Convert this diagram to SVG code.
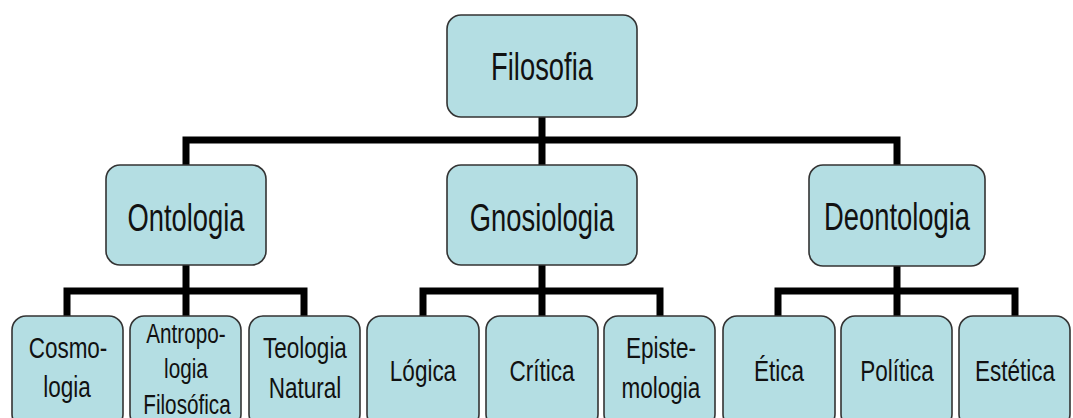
<svg xmlns="http://www.w3.org/2000/svg" width="1073" height="418" viewBox="0 0 1073 418">
<style>
.box{fill:#b4dee3;stroke:#333;stroke-width:1.6}
.t1{font-family:"Liberation Sans",Arial,sans-serif;font-size:38px;fill:#111;text-anchor:middle}
.t2{font-family:"Liberation Sans",Arial,sans-serif;font-size:30px;fill:#111;text-anchor:middle}
.t3{font-family:"Liberation Sans",Arial,sans-serif;font-size:28px;fill:#111;text-anchor:middle}
.c{fill:none;stroke:#000;stroke-width:7;stroke-linejoin:miter;stroke-linecap:butt}
</style>
<rect width="1073" height="418" fill="#fff"/>
<g id="connectors">
<path class="c" d="M542 117 V316"/>
<path class="c" d="M186 165 V140 H897 V165"/>
<path class="c" d="M186 265 V316"/>
<path class="c" d="M67 316 V291 H304 V316"/>
<path class="c" d="M423 316 V291 H660 V316"/>
<path class="c" d="M897 266 V316"/>
<path class="c" d="M778 316 V291 H1015 V316"/>
</g>
<g id="filosofia"><rect class="box" x="447" y="15" width="190" height="102" rx="14"/><text class="t1" transform="translate(542 80) scale(0.72 1)">Filosofia</text></g>
<g id="ontologia"><rect class="box" x="106" y="165" width="160" height="100" rx="14"/><text class="t1" transform="translate(186 231) scale(0.72 1)">Ontologia</text></g>
<g id="gnosiologia"><rect class="box" x="447" y="165" width="190" height="100" rx="14"/><text class="t1" transform="translate(542 231) scale(0.72 1)">Gnosiologia</text></g>
<g id="deontologia"><rect class="box" x="809" y="165" width="176" height="101" rx="14"/><text class="t1" transform="translate(897 230) scale(0.72 1)">Deontologia</text></g>
<g id="cosmologia"><rect class="box" x="12" y="316" width="111" height="112" rx="14"/><text class="t2" transform="translate(68 358) scale(0.75 1)">Cosmo-</text><text class="t2" transform="translate(67 397) scale(0.75 1)">logia</text></g>
<g id="antropologia"><rect class="box" x="130" y="316" width="111" height="112" rx="14"/><text class="t3" transform="translate(186 343) scale(0.74 1)">Antropo-</text><text class="t3" transform="translate(186 378) scale(0.74 1)">logia</text><text class="t3" transform="translate(187 414) scale(0.74 1)">Filosófica</text></g>
<g id="teologia"><rect class="box" x="249" y="316" width="111" height="112" rx="14"/><text class="t2" transform="translate(305 358) scale(0.75 1)">Teologia</text><text class="t2" transform="translate(305 398) scale(0.75 1)">Natural</text></g>
<g id="logica"><rect class="box" x="367" y="316" width="112" height="112" rx="14"/><text class="t2" transform="translate(423 381) scale(0.75 1)">Lógica</text></g>
<g id="critica"><rect class="box" x="486" y="316" width="112" height="112" rx="14"/><text class="t2" transform="translate(542 381) scale(0.75 1)">Crítica</text></g>
<g id="epistemologia"><rect class="box" x="604" y="316" width="111" height="112" rx="14"/><text class="t2" transform="translate(661 358) scale(0.75 1)">Episte-</text><text class="t2" transform="translate(661 398) scale(0.75 1)">mologia</text></g>
<g id="etica"><rect class="box" x="723" y="316" width="112" height="112" rx="14"/><text class="t2" transform="translate(779 381) scale(0.75 1)">Ética</text></g>
<g id="politica"><rect class="box" x="841" y="316" width="111" height="112" rx="14"/><text class="t2" transform="translate(897 381) scale(0.75 1)">Política</text></g>
<g id="estetica"><rect class="box" x="959" y="316" width="111" height="112" rx="14"/><text class="t2" transform="translate(1015 381) scale(0.75 1)">Estética</text></g>
</svg>
